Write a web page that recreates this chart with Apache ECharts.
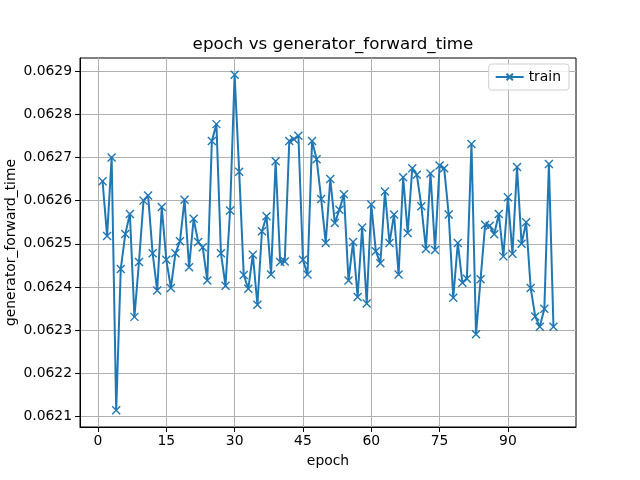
<!DOCTYPE html>
<html>
<head>
<meta charset="utf-8">
<script src="https://cdn.jsdelivr.net/npm/echarts@6/dist/echarts.min.js"></script>
<style>html,body{margin:0;padding:0;background:#fff;}#c{width:640px;height:480px;}</style>
</head>
<body>
<div id="c"></div>
<script>
const epochs = [];
for (let i = 1; i <= 100; i++) epochs.push(i);
const trainValues = [
  0.062645, 0.062518, 0.062700, 0.062115, 0.062442, 0.062523, 0.062569, 0.062331, 0.062458, 0.062600,
  0.062612, 0.062478, 0.062392, 0.062585, 0.062463, 0.062398, 0.062478, 0.062506, 0.062602, 0.062446,
  0.062558, 0.062504, 0.062492, 0.062415, 0.062738, 0.062777, 0.062478, 0.062403, 0.062577, 0.062891,
  0.062667, 0.062428, 0.062396, 0.062475, 0.062359, 0.062529, 0.062564, 0.062429, 0.062691, 0.062458,
  0.062459, 0.062738, 0.062742, 0.062750, 0.062463, 0.062429, 0.062738, 0.062696, 0.062604, 0.062502,
  0.062650, 0.062548, 0.062579, 0.062615, 0.062415, 0.062504, 0.062377, 0.062538, 0.062362, 0.062591,
  0.062483, 0.062455, 0.062621, 0.062502, 0.062568, 0.062429, 0.062654, 0.062525, 0.062675, 0.062660,
  0.062587, 0.062488, 0.062663, 0.062486, 0.062681, 0.062675, 0.062568, 0.062375, 0.062502, 0.062410,
  0.062419, 0.062731, 0.062291, 0.062418, 0.062544, 0.062542, 0.062522, 0.062569, 0.062471, 0.062608,
  0.062477, 0.062678, 0.062500, 0.062550, 0.062398, 0.062332, 0.062308, 0.062350, 0.062685, 0.062308
];
const xTicks = [0, 15, 30, 45, 60, 75, 90];
const yTicks = [0.0621, 0.0622, 0.0623, 0.0624, 0.0625, 0.0626, 0.0627, 0.0628, 0.0629];

const seriesData = epochs.map((e, i) => [e, trainValues[i]]);
const font = 'DejaVu Sans';
const chart = echarts.init(document.getElementById('c'), null, {renderer: 'canvas'});
chart.setOption({
  animation: false,
  backgroundColor: '#ffffff',
  title: {
    text: 'epoch vs generator_forward_time',
    left: 328, top: 31, textAlign: 'center',
    textStyle: {fontFamily: font, fontSize: 16.7, fontWeight: 'normal', color: '#000'}
  },
  legend: {
    right: 71, top: 64,
    padding: [6, 8, 6, 6],
    itemWidth: 28, itemHeight: 8,
    borderColor: '#d0d0d0', borderWidth: 1, borderRadius: 3,
    backgroundColor: 'rgba(255,255,255,0.8)',
    textStyle: {fontFamily: font, fontSize: 13.9, color: '#000'},
    data: ['train']
  },
  grid: {
    left: 80, right: 64, top: 58, bottom: 53,
    containLabel: false, outerBoundsMode: 'none',
    show: true, borderColor: '#000', borderWidth: 1, backgroundColor: 'transparent'
  },
  xAxis: {
    type: 'value', min: -3.95, max: 104.95,
    name: 'epoch', nameLocation: 'middle', nameGap: 27, nameMoveOverlap: false,
    nameTextStyle: {fontFamily: font, fontSize: 13.9, color: '#000'},
    axisLine: {show: true, onZero: false, lineStyle: {color: '#000', width: 1}},
    axisTick: {show: true, length: 4.9, customValues: xTicks, lineStyle: {color: '#000', width: 1}},
    axisLabel: {customValues: xTicks, margin: 7, fontFamily: font, fontSize: 13.9, color: '#000'},
    splitLine: {show: true, lineStyle: {color: '#b0b0b0', width: 1}}
  },
  yAxis: {
    type: 'value', min: 0.0620762, max: 0.0629300,
    name: 'generator_forward_time', nameLocation: 'middle', nameGap: 62, nameRotate: 90,
    nameMoveOverlap: false,
    nameTextStyle: {fontFamily: font, fontSize: 13.9, color: '#000'},
    axisLine: {show: true, onZero: false, lineStyle: {color: '#000', width: 1}},
    axisTick: {show: true, length: 4.9, customValues: yTicks, lineStyle: {color: '#000', width: 1}},
    axisLabel: {customValues: yTicks, margin: 8, fontFamily: font, fontSize: 13.9, color: '#000',
      formatter: v => v.toFixed(4)},
    splitLine: {show: true, lineStyle: {color: '#b0b0b0', width: 1}}
  },
  series: [{
    name: 'train', type: 'line',
    data: seriesData,
    showAllSymbol: true,
    symbol: 'path://M0,0L10,10M10,0L0,10',
    symbolSize: 8,
    lineStyle: {color: '#1f77b4', width: 2},
    itemStyle: {color: '#1f77b4', borderColor: '#1f77b4', borderWidth: 1.4},
    emphasis: {disabled: true}
  }]
});
</script>
</body>
</html>
